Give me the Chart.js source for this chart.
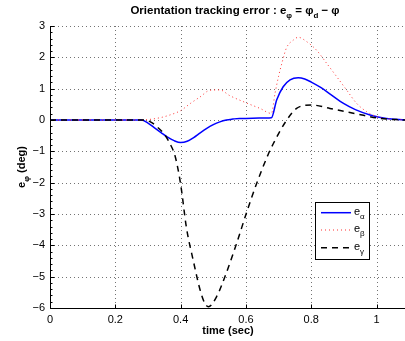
<!DOCTYPE html>
<html>
<head>
<meta charset="utf-8">
<script src="https://cdn.jsdelivr.net/npm/chart.js@4/dist/chart.umd.min.js"></script>
<style>
  html, body { margin: 0; padding: 0; background: #fff; overflow: hidden; }
  canvas { display: block; }
</style>
</head>
<body>
<canvas id="c" width="405" height="341"></canvas>
<script>
// Tick positions
const xTicks = [0, 0.2, 0.4, 0.6, 0.8, 1];
const yTicks = [-6, -5, -4, -3, -2, -1, 0, 1, 2, 3];

// e_alpha (deg) vs time (sec)
const tAlpha = [0, 0.28, 0.30, 0.32, 0.34, 0.36, 0.38, 0.40, 0.42, 0.44, 0.46, 0.48, 0.50, 0.52, 0.54, 0.56, 0.58, 0.60, 0.64, 0.678, 0.694, 0.714, 0.735, 0.76, 0.78, 0.80, 0.83, 0.86, 0.90, 0.935, 0.98, 1.03, 1.087];
const eAlpha = [0, 0, -0.10, -0.25, -0.40, -0.55, -0.66, -0.72, -0.68, -0.56, -0.41, -0.27, -0.15, -0.06, 0.0, 0.03, 0.05, 0.05, 0.06, 0.07, 0.64, 1.06, 1.28, 1.35, 1.31, 1.21, 1.03, 0.81, 0.52, 0.33, 0.16, 0.05, 0.0];

// e_beta (deg) vs time (sec)
const tBeta = [0, 0.28, 0.306, 0.34, 0.367, 0.40, 0.43, 0.46, 0.49, 0.52, 0.55, 0.60, 0.643, 0.678, 0.689, 0.70, 0.711, 0.724, 0.745, 0.76, 0.786, 0.816, 0.847, 0.878, 0.908, 0.939, 0.969, 1.0, 1.04, 1.087];
const eBeta = [0, 0, 0.02, 0.08, 0.16, 0.30, 0.53, 0.74, 0.95, 0.96, 0.78, 0.55, 0.37, 0.21, 0.85, 1.40, 1.85, 2.30, 2.55, 2.64, 2.50, 2.23, 1.81, 1.38, 0.96, 0.53, 0.27, 0.11, 0.03, 0.0];

// e_gamma (deg) vs time (sec)
const tGamma = [0, 0.28, 0.306, 0.327, 0.352, 0.367, 0.383, 0.40, 0.418, 0.439, 0.459, 0.474, 0.485, 0.51, 0.541, 0.571, 0.602, 0.633, 0.668, 0.684, 0.72, 0.755, 0.80, 0.857, 0.908, 0.96, 1.01, 1.087];
const eGamma = [0, 0, -0.05, -0.21, -0.48, -0.75, -1.15, -2.05, -3.45, -4.50, -5.40, -5.85, -5.96, -5.64, -4.85, -3.95, -2.95, -2.02, -1.10, -0.75, -0.08, 0.37, 0.48, 0.37, 0.26, 0.15, 0.05, 0.0];

const seriesSubs = ['α', 'β', 'γ'];

const FONT = '"Liberation Sans", Arial, Helvetica, sans-serif';
const X_MAX = 1.087;

const pts = (t, v) => t.map((x, i) => ({ x: x, y: v[i] }));
const fmt = v => (v < 0 ? '\u2212' + Math.abs(v) : String(v));

// Draw text made of normal and subscript pieces; returns total width
function richWidth(ctx, segs, size, bold) {
  let w = 0;
  for (const s of segs) {
    const fs = s.sub ? Math.round(size * 0.72) : size;
    ctx.font = (bold || s.bold ? 'bold ' : '') + fs + 'px ' + FONT;
    w += ctx.measureText(s.text).width;
  }
  return w;
}
function drawRich(ctx, segs, x, y, size, bold, align) {
  let cx = x;
  if (align === 'center') cx = x - richWidth(ctx, segs, size, bold) / 2;
  ctx.textAlign = 'left';
  ctx.textBaseline = 'alphabetic';
  for (const s of segs) {
    const fs = s.sub ? Math.round(size * 0.72) : size;
    const b = s.bold !== undefined ? s.bold : bold;
    ctx.font = (b ? 'bold ' : '') + fs + 'px ' + FONT;
    ctx.fillText(s.text, cx, y + (s.sub ? size * 0.35 : 0));
    cx += ctx.measureText(s.text).width;
  }
}

const framePlugin = {
  id: 'frame',
  beforeDraw(chart) {
    const ctx = chart.ctx;
    ctx.save();
    ctx.fillStyle = '#fff';
    ctx.fillRect(0, 0, chart.width, chart.height);
    ctx.restore();
  },
  beforeDatasetsDraw(chart) {
    const { ctx, chartArea: a, scales: { x, y } } = chart;
    ctx.save();
    ctx.strokeStyle = 'rgba(0,0,0,0.55)';
    ctx.lineWidth = 1;
    ctx.setLineDash([1, 3]);
    for (const v of xTicks) {
      if (v === 0) continue;
      const px = Math.round(x.getPixelForValue(v)) + 0.5;
      ctx.beginPath(); ctx.moveTo(px, a.top); ctx.lineTo(px, a.bottom); ctx.stroke();
    }
    for (const v of yTicks) {
      if (v === yTicks[0]) continue;
      const py = Math.round(y.getPixelForValue(v)) + 0.5;
      ctx.beginPath(); ctx.moveTo(a.left, py); ctx.lineTo(a.right, py); ctx.stroke();
    }
    ctx.restore();
  },
  afterDatasetsDraw(chart) {
    const { ctx, chartArea: a, scales: { x, y } } = chart;
    ctx.save();
    ctx.setLineDash([]);
    ctx.strokeStyle = '#000';
    ctx.lineWidth = 1;
    const lx = Math.round(a.left) + 0.5;
    const by = Math.round(a.bottom) + 0.5;
    ctx.beginPath();
    ctx.moveTo(lx, a.top); ctx.lineTo(lx, by); ctx.lineTo(a.right, by);
    ctx.stroke();
    // inward tick marks
    ctx.beginPath();
    for (const v of yTicks) {
      const py = Math.round(y.getPixelForValue(v)) + 0.5;
      ctx.moveTo(lx, py); ctx.lineTo(lx + 4, py);
    }
    for (let v = yTicks[0]; v <= yTicks[yTicks.length - 1] + 1e-9; v += 0.2) {
      const py = Math.round(y.getPixelForValue(v)) + 0.5;
      ctx.moveTo(lx, py); ctx.lineTo(lx + 2, py);
    }
    for (const v of xTicks) {
      const px = Math.round(x.getPixelForValue(v)) + 0.5;
      ctx.moveTo(px, by); ctx.lineTo(px, by - 4);
    }
    ctx.stroke();

    // legend
    const L = { x: 315.5, y: 202.5, w: 54, h: 57 };
    ctx.fillStyle = '#fff';
    ctx.fillRect(L.x, L.y, L.w, L.h);
    ctx.strokeStyle = '#000';
    ctx.lineWidth = 1;
    ctx.strokeRect(L.x, L.y, L.w, L.h);
    const rowsY = [212.7, 230, 247.7];
    chart.data.datasets.forEach((ds, i) => {
      ctx.save();
      ctx.strokeStyle = ds.borderColor;
      ctx.lineWidth = ds.borderWidth;
      ctx.setLineDash(ds.borderDash || []);
      ctx.beginPath();
      ctx.moveTo(321, rowsY[i]); ctx.lineTo(351, rowsY[i]);
      ctx.stroke();
      ctx.restore();
      ctx.fillStyle = '#000';
      drawRich(ctx, [{ text: 'e' }, { text: seriesSubs[i], sub: true }], 354, rowsY[i] + 2, 11, false, 'left');
    });

    ctx.restore();
  },
  afterDraw(chart) {
    const { ctx, chartArea: a } = chart;
    ctx.save();
    ctx.fillStyle = '#000';
    // title
    drawRich(ctx, [
      { text: 'Orientation tracking error : e' },
      { text: 'φ', sub: true },
      { text: ' = φ' },
      { text: 'd', sub: true },
      { text: ' \u2212 φ' }
    ], 235, 14, 11.5, true, 'center');
    // x axis title
    drawRich(ctx, [{ text: 'time (sec)' }], 228, 334, 11, true, 'center');
    // y axis title
    ctx.translate(25, (a.top + a.bottom) / 2);
    ctx.rotate(-Math.PI / 2);
    drawRich(ctx, [{ text: 'e' }, { text: 'φ', sub: true }, { text: ' (deg)' }], 0, 0, 11, true, 'center');
    ctx.restore();
  }
};

new Chart(document.getElementById('c'), {
  type: 'line',
  data: {
    datasets: [
      { label: 'e_alpha', data: pts(tAlpha, eAlpha), borderColor: '#0000ff', borderWidth: 1.5, pointRadius: 0, cubicInterpolationMode: 'monotone', order: 3 },
      { label: 'e_beta', data: pts(tBeta, eBeta), borderColor: '#ff3030', borderWidth: 1, borderDash: [1, 3], pointRadius: 0, cubicInterpolationMode: 'monotone', order: 2 },
      { label: 'e_gamma', data: pts(tGamma, eGamma), borderColor: '#000000', borderWidth: 1.5, borderDash: [6, 5], pointRadius: 0, cubicInterpolationMode: 'monotone', order: 1 }
    ]
  },
  options: {
    responsive: false,
    animation: false,
    devicePixelRatio: 1,
    layout: { padding: { top: 26, left: 0, right: 0, bottom: 0 } },
    plugins: { legend: { display: false }, title: { display: false }, tooltip: { enabled: false } },
    scales: {
      x: {
        type: 'linear', min: 0, max: X_MAX,
        grid: { display: false, drawTicks: false },
        border: { display: false },
        afterBuildTicks: s => { s.ticks = xTicks.map(v => ({ value: v })); },
        afterFit: s => { s.height = 33; },
        ticks: { padding: 5, color: '#000', maxRotation: 0, autoSkip: false, font: { family: FONT, size: 11 }, callback: v => fmt(v) }
      },
      y: {
        type: 'linear', min: yTicks[0], max: yTicks[yTicks.length - 1],
        grid: { display: false, drawTicks: false },
        border: { display: false },
        afterBuildTicks: s => { s.ticks = yTicks.map(v => ({ value: v })); },
        afterFit: s => { s.width = 50; },
        ticks: { padding: 5, color: '#000', autoSkip: false, font: { family: FONT, size: 11 }, callback: v => fmt(v) }
      }
    }
  },
  plugins: [framePlugin]
});
</script>
</body>
</html>
